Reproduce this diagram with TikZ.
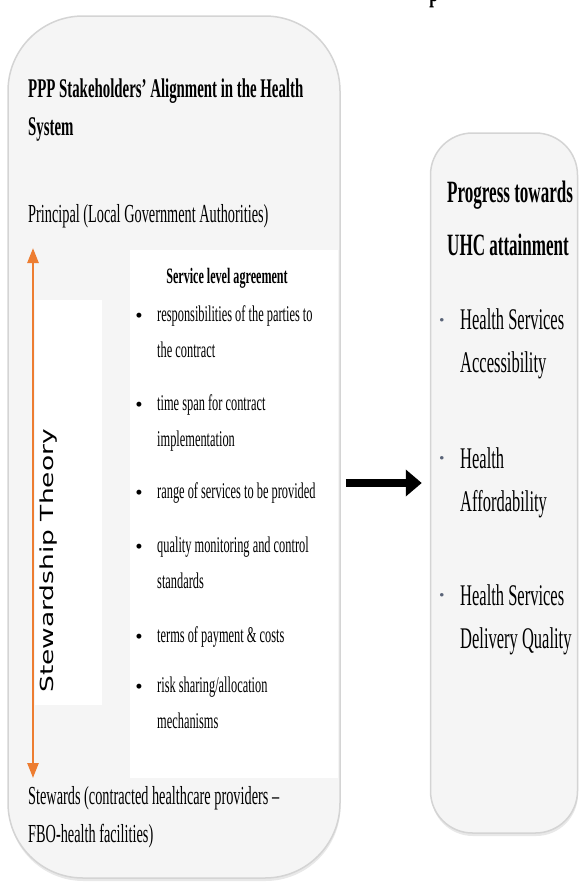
\documentclass[tikz,border=0pt]{standalone}
\usepackage{fontspec}
\usepackage{tikz}
\usetikzlibrary{
    arrows.meta,
    positioning,
    shadows
}
\newfontfamily\narrowserif[FakeStretch=0.55]{Liberation Serif}
\newfontfamily\stewsans[FakeStretch=1.47]{DejaVu Sans}
\definecolor{panelgrey}{HTML}{F5F5F5}
\definecolor{edgegrey}{HTML}{D4D4D4}
\definecolor{steworange}{HTML}{ED7D31}
\definecolor{dotslate}{HTML}{5A6478}

\begin{document}
\begin{tikzpicture}[x=1pt, y=-1pt,
    panel/.style={draw=edgegrey, line width=1.5pt, fill=panelgrey, rounded corners=#1,
        drop shadow={opacity=0.18, shadow xshift=0.5pt, shadow yshift=-3pt}},
    whitebox/.style={fill=white, inner sep=0pt},
    heading/.style={anchor=base west, inner sep=0pt, align=left,
        font=\narrowserif\bfseries\fontsize{27}{38}\selectfont},
    plain/.style={anchor=base west, inner sep=0pt, align=left,
        font=\narrowserif\fontsize{26}{38}\selectfont},
    slaitem/.style={anchor=base west, inner sep=0pt, align=left,
        font=\narrowserif\fontsize{22.5}{36}\selectfont},
    sladot/.style={anchor=base, inner sep=0pt, font=\fontsize{22}{22}\selectfont},
    uhctitle/.style={anchor=base west, inner sep=0pt, align=left,
        font=\narrowserif\bfseries\fontsize{31}{53}\selectfont},
    uhcitem/.style={anchor=base west, inner sep=0pt, align=left,
        font=\narrowserif\fontsize{30}{43}\selectfont},
    uhcdot/.style={anchor=base, inner sep=0pt, text=dotslate, font=\fontsize{16}{16}\selectfont},
    stewarrow/.style={draw=steworange, line width=2.5pt,
        {Triangle[length=15pt, width=11pt]}-{Triangle[length=15pt, width=11pt]}},
    bigarrow/.style={draw=black, line width=8pt, -{Triangle[length=16pt, width=26pt]}}
]
\useasboundingbox (0,0) rectangle (579,892);

% cut-off title above the panels
\node[anchor=base, inner sep=0pt, font=\narrowserif\bfseries\fontsize{30}{30}\selectfont] (cuttitle) at (434, 1) {p};

% the two panels
\node[panel=75pt, minimum width=332pt, minimum height=862pt] (stakebox) at (174, 447) {};
\node[panel=42pt, minimum width=147pt, minimum height=700pt] (uhcbox) at (504, 483) {};

% left panel (multi-line nodes sit on their last baseline)
\node[heading] (stakehead) at (28, 135) {PPP Stakeholders’ Alignment in the Health\\System};
\node[plain] (principal) at (28, 222) {Principal (Local Government Authorities)};

\node[whitebox, minimum width=208pt, minimum height=528pt] (slabox) at (234, 514) {};
\node[whitebox, minimum width=67pt, minimum height=405pt] (stewbox) at (68.5, 502.5) {};

\node[plain] (stewards) at (28, 842) {Stewards (contracted healthcare providers –\\FBO-health facilities)};

\coordinate (stewtop) at (33, 248);
\coordinate (stewbot) at (33, 778);
\draw[stewarrow] (stewtop) -- (stewbot);
\node[rotate=90, inner sep=0pt, font=\stewsans\fontsize{18}{18}\selectfont] (stewtheory) at (48.5, 561) {Stewardship Theory};

% service level agreement
\node[anchor=base, inner sep=0pt, font=\narrowserif\bfseries\fontsize{22}{22}\selectfont] (slahead) at (227, 283) {Service level agreement};
\node[slaitem] (sla1) at (157, 357) {responsibilities of the parties to\\the contract};
\node[slaitem] (sla2) at (157, 446) {time span for contract\\implementation};
\node[slaitem] (sla3) at (157, 498) {range of services to be provided};
\node[slaitem] (sla4) at (157, 588) {quality monitoring and control\\standards};
\node[slaitem] (sla5) at (157, 642) {terms of payment \& costs};
\node[slaitem] (sla6) at (157, 728) {risk sharing/allocation\\mechanisms};
\node[sladot] (dot1) at (139, 321) {•};
\node[sladot] (dot2) at (139, 410) {•};
\node[sladot] (dot3) at (139, 498) {•};
\node[sladot] (dot4) at (139, 552) {•};
\node[sladot] (dot5) at (139, 642) {•};
\node[sladot] (dot6) at (139, 692) {•};

% right panel
\node[uhctitle] (uhchead) at (447, 255) {Progress towards\\UHC attainment};
\node[uhcitem] (uhc1) at (460, 372) {Health Services\\Accessibility};
\node[uhcitem] (uhc2) at (460, 511) {Health\\Affordability};
\node[uhcitem] (uhc3) at (460, 648) {Health Services\\Delivery Quality};
\node[uhcdot] (udot1) at (442, 324) {•};
\node[uhcdot] (udot2) at (442, 462) {•};
\node[uhcdot] (udot3) at (442, 599) {•};

\draw[bigarrow, shorten <=5pt, shorten >=8pt] (uhcbox.west -| stakebox.east) -- (uhcbox.west);
\end{tikzpicture}
\end{document}
